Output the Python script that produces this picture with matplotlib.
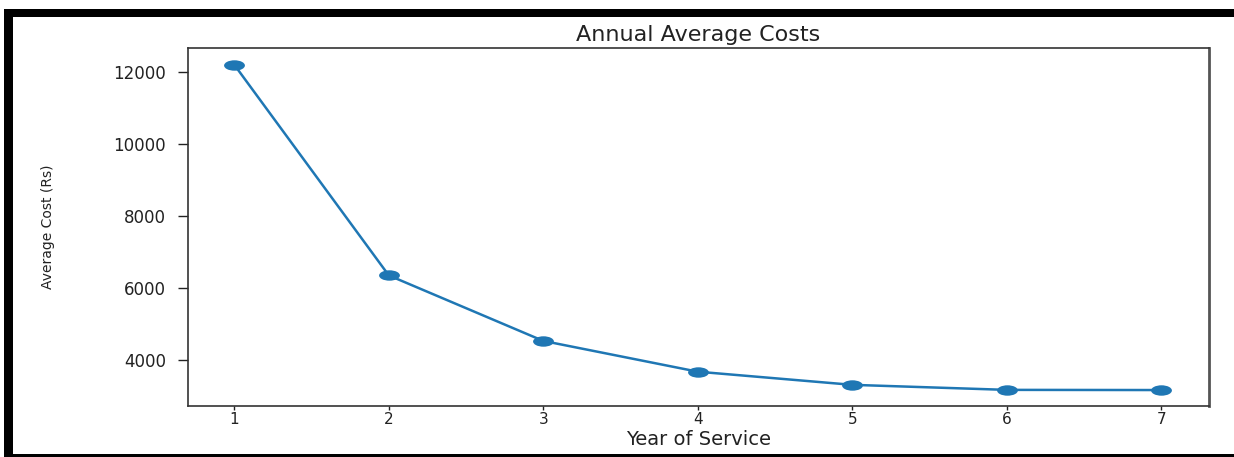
import matplotlib
matplotlib.use("Agg")
import matplotlib.pyplot as plt
from matplotlib.patches import Rectangle
from matplotlib.path import Path
from matplotlib.transforms import Affine2D

# data
years = [1, 2, 3, 4, 5, 6, 7]
avg_cost = [12200, 6350, 4530, 3675, 3310, 3170, 3165]
y_ticks = [4000, 6000, 8000, 10000, 12000]

W, H = 1234, 457
fig = plt.figure(figsize=(W / 100, H / 100), dpi=100)
ax = fig.add_axes([188 / W, 1 - 406 / H, (1209 - 188) / W, (406 - 48) / H])

# the reference is squashed vertically, so markers are flat ellipses
ellipse = Path.unit_circle().transformed(Affine2D().scale(2.0, 1.0))
ax.plot(years, avg_cost, color="#1f77b4", lw=1.8, marker=ellipse,
        markersize=15, markeredgewidth=0)

ax.set_xlim(0.7, 7.31)
ax.set_ylim(2722, 12667)
ax.set_xticks(years)
ax.set_yticks(y_ticks)

txt = "#222222"
ax.tick_params(axis="y", length=7, width=1, pad=9, labelsize=12, colors=txt)
ax.tick_params(axis="x", length=3, width=1, pad=1.5, labelsize=11, colors=txt)

ax.set_title("Annual Average Costs", fontsize=16, color=txt, pad=5)
ax.set_xlabel("Year of Service", fontsize=14, color=txt)
ax.xaxis.set_label_coords(0.5, (406 - 430) / 358)
ax.set_ylabel("Average Cost (Rs)", fontsize=10, color=txt)
ax.yaxis.set_label_coords(-0.130, 0.5)

for side in ["left", "top", "bottom"]:
    ax.spines[side].set_linewidth(1.2)
    ax.spines[side].set_color("#333333")
ax.spines["right"].set_linewidth(2.0)
ax.spines["right"].set_color("#555555")

# black screenshot frame around the chart
def px_rect(x0, y0, x1, y1):
    return Rectangle((x0 / W, 1 - y1 / H), (x1 - x0) / W, (y1 - y0) / H,
                     transform=fig.transFigure, facecolor="black",
                     edgecolor="none", zorder=10)

fig.patches.append(px_rect(4, 9, W, 17))
fig.patches.append(px_rect(4, 9, 13, H))
fig.patches.append(px_rect(4, 454, W, H))

fig.savefig("out.png", dpi=100)
